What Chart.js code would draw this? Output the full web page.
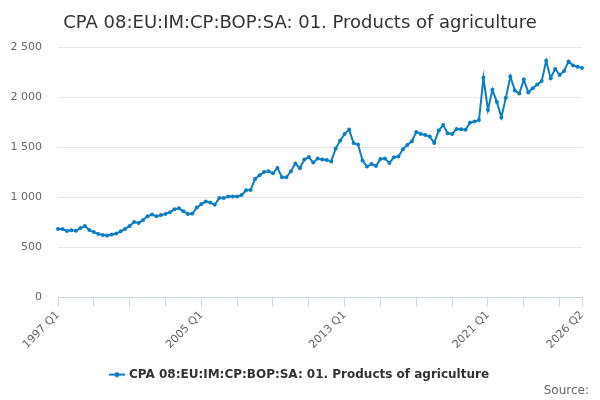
<!DOCTYPE html>
<html>
<head>
<meta charset="utf-8">
<script src="https://cdn.jsdelivr.net/npm/chart.js@4.4.1/dist/chart.umd.min.js"></script>
<style>
  html, body { margin: 0; padding: 0; background: #fff; }
  #wrap { width: 600px; height: 400px; position: relative; }
</style>
</head>
<body>
<div id="wrap"><canvas id="chart"></canvas></div>
<script>
// Chart data
const seriesName = 'CPA 08:EU:IM:CP:BOP:SA: 01. Products of agriculture';
const firstYear = 1997;
const lastYear = 2026;
const lastQuarter = 2;
const shownLabels = ['1997 Q1', '2005 Q1', '2013 Q1', '2021 Q1', '2026 Q2'];
const yTicks = [0, 500, 1000, 1500, 2000, 2500];

const values = [
  685, 685, 665, 673, 668, 695, 715, 675,
  655, 637, 627, 620, 630, 640, 663, 687,
  717, 757, 745, 777, 813, 830, 813, 825,
  837, 853, 883, 893, 863, 837, 840, 900,
  935, 960, 950, 928, 995, 995, 1010, 1010,
  1012, 1025, 1073, 1077, 1187, 1223, 1255, 1263,
  1243, 1297, 1203, 1203, 1263, 1340, 1293, 1380,
  1405, 1350, 1390, 1380, 1375, 1362, 1490, 1570,
  1637, 1680, 1545, 1530, 1370, 1310, 1335, 1317,
  1387, 1390, 1347, 1403, 1410, 1483, 1527, 1563,
  1655, 1637, 1627, 1610, 1547, 1670, 1725, 1643,
  1637, 1687, 1683, 1678, 1750, 1760, 1777, 2198,
  1877, 2078, 1955, 1802, 1998, 2210, 2072, 2040,
  2180, 2052, 2093, 2130, 2165, 2368, 2193, 2287,
  2227, 2266, 2362, 2320, 2308, 2295
];

// Quarter labels
const labels = [];
for (let y = firstYear; y <= lastYear; y++) {
  for (let q = 1; q <= 4; q++) {
    if (y === lastYear && q > lastQuarter) break;
    labels.push(`${y} Q${q}`);
  }
}

const lineColor = '#0f7dc2';
const axisColor = '#ccd6eb';
const font = 'DejaVu Sans';

// Legend symbol: short line with a dot
const legendIcon = document.createElement('canvas');
legendIcon.width = 16;
legendIcon.height = 6;
const ictx = legendIcon.getContext('2d');
ictx.strokeStyle = lineColor;
ictx.lineWidth = 2;
ictx.beginPath();
ictx.moveTo(0, 3);
ictx.lineTo(16, 3);
ictx.stroke();
ictx.fillStyle = lineColor;
ictx.beginPath();
ictx.arc(8, 3, 2.5, 0, Math.PI * 2);
ictx.fill();

const formatNum = v => String(v).replace(/\B(?=(\d{3})+(?!\d))/g, ' ');
const isTickMark = i => i % 8 === 0 || i === labels.length - 1;

const ctx = document.getElementById('chart').getContext('2d');
new Chart(ctx, {
  type: 'line',
  data: {
    labels: labels,
    datasets: [{
      label: seriesName,
      data: values,
      borderColor: lineColor,
      backgroundColor: lineColor,
      borderWidth: 2,
      pointRadius: 2,
      pointBorderWidth: 0,
      pointBackgroundColor: lineColor,
      pointStyle: 'circle',
      tension: 0
    }]
  },
  options: {
    responsive: true,
    maintainAspectRatio: false,
    animation: false,
    layout: {
      padding: { left: 11, right: 11, top: 0, bottom: 0 }
    },
    plugins: {
      title: {
        display: true,
        text: seriesName,
        color: '#333333',
        font: { family: font, size: 18, weight: 'normal' },
        padding: { top: 13, bottom: 13 }
      },
      subtitle: {
        display: true,
        text: 'Source:',
        position: 'bottom',
        align: 'end',
        color: '#666666',
        font: { family: font, size: 12, weight: 'normal' },
        // legend box reserves extra space below itself, pull it down a bit
        padding: { top: -7, bottom: 2 }
      },
      legend: {
        position: 'bottom',
        labels: {
          usePointStyle: true,
          pointStyle: legendIcon,
          color: '#333333',
          font: { family: font, size: 12, weight: 'bold' },
          padding: 2
        }
      },
      tooltip: { enabled: false }
    },
    scales: {
      x: {
        offset: false,
        border: { display: true, color: axisColor, width: 1 },
        grid: {
          drawOnChartArea: false,
          drawTicks: true,
          tickLength: 9,
          tickColor: c => isTickMark(c.index) ? axisColor : 'rgba(0,0,0,0)'
        },
        ticks: {
          autoSkip: false,
          minRotation: 45,
          maxRotation: 45,
          color: '#666666',
          font: { family: font, size: 11 },
          padding: 2,
          callback: function (val, i) {
            const lab = labels[i];
            return shownLabels.includes(lab) ? lab : '';
          }
        },
        afterFit: axis => {
          axis.height = 69;
          axis.paddingRight = 18;
        }
      },
      y: {
        min: 0,
        max: 2500,
        afterBuildTicks: axis => {
          axis.ticks = yTicks.map(v => ({ value: v }));
        },
        afterFit: axis => {
          axis.width = 47;
        },
        border: { display: false },
        grid: {
          color: '#e6e6e6',
          drawTicks: false
        },
        ticks: {
          color: '#666666',
          font: { family: font, size: 11 },
          padding: 16,
          callback: v => formatNum(v)
        }
      }
    }
  }
});
</script>
</body>
</html>
